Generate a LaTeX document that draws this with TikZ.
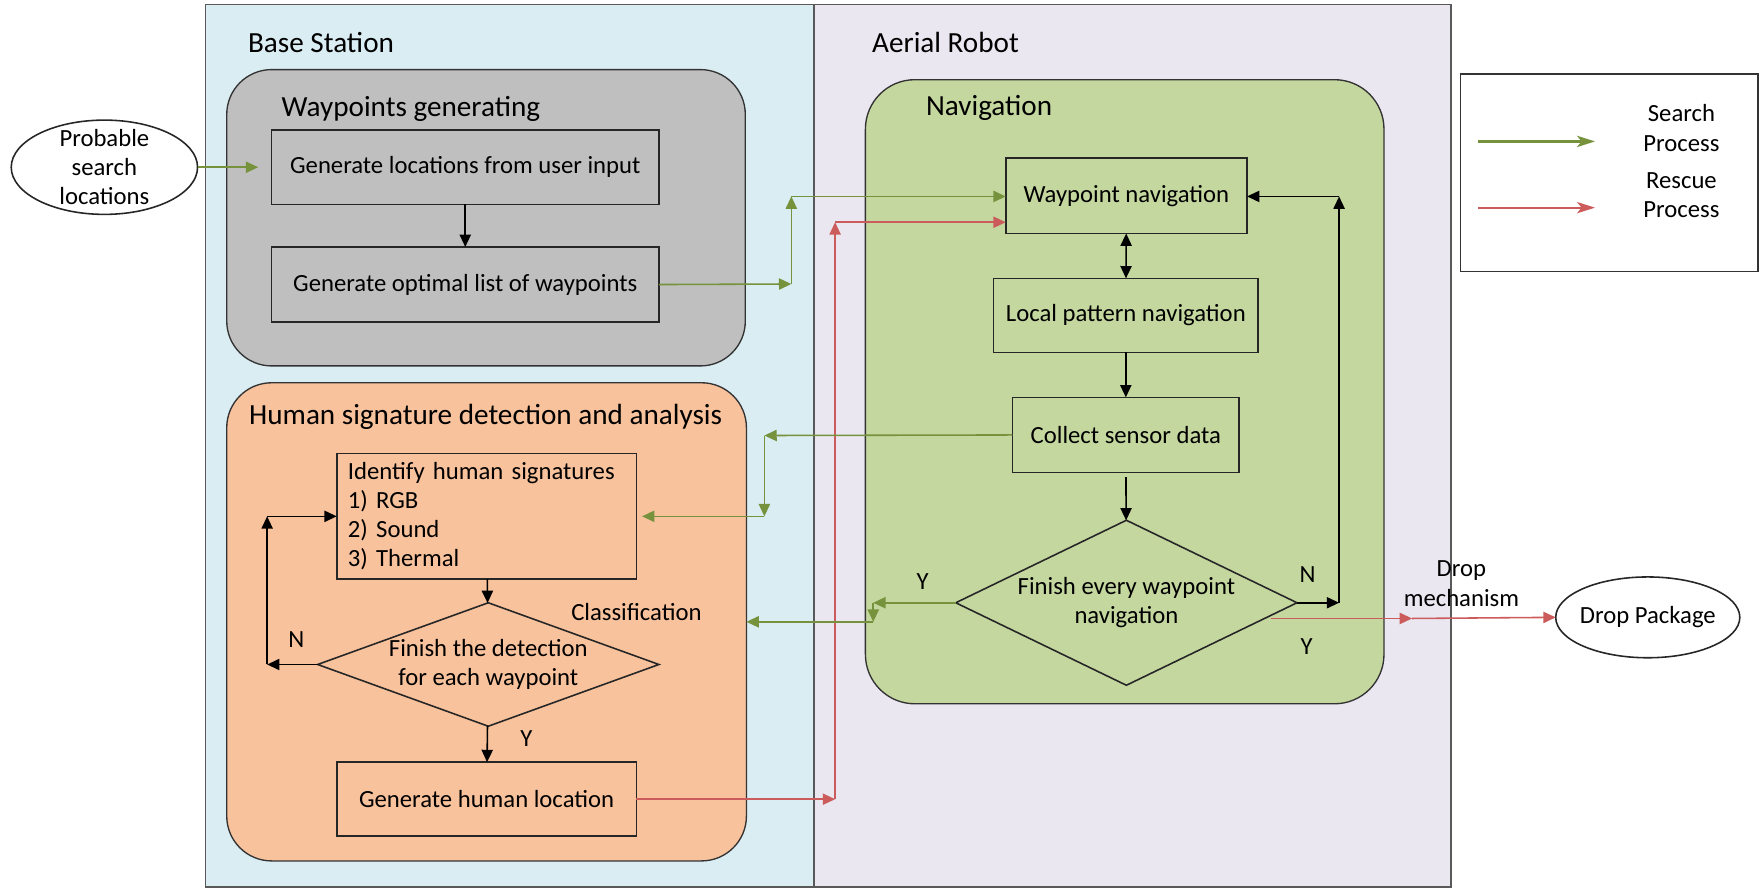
\documentclass[tikz,border=0pt]{standalone}
\usepackage{fontspec}
\setmainfont{Carlito}
\usetikzlibrary{arrows.meta,shapes.geometric}
\definecolor{bsblue}{HTML}{DAEDF3}
\definecolor{arlav}{HTML}{EAE7F0}
\definecolor{wpgray}{HTML}{BFBFBF}
\definecolor{hsorange}{HTML}{F8C29C}
\definecolor{navgreen}{HTML}{C4D79F}
\definecolor{sgreen}{HTML}{76923C}
\definecolor{rred}{HTML}{CC5B5B}
\begin{document}
\begin{tikzpicture}[x=0.5pt,y=-0.5pt,
  every node/.style={inner sep=0pt, outer sep=0pt},
  regionbox/.style={draw=black!65, line width=0.8pt, rectangle},
  groupbox/.style={draw=black!80, line width=0.6pt, rectangle, rounded corners=20pt},
  stepbox/.style={draw=black!85, line width=0.7pt, rectangle, align=center, font=\fontsize{11}{13}\selectfont},
  decbox/.style={draw=black!85, line width=0.7pt, diamond},
  ovalbox/.style={draw=black!85, line width=0.7pt, ellipse, fill=white},
  titletext/.style={anchor=west, font=\fontsize{13}{15}\selectfont},
  lbltext/.style={font=\fontsize{11}{13}\selectfont, align=center},
  myTip/.style={-{Triangle[length=5.5pt,width=5pt]}},
  blkarrow/.style={myTip, draw=black, line width=0.7pt},
  blkdbl/.style={{Triangle[length=5.5pt,width=5pt]}-{Triangle[length=5.5pt,width=5pt]}, draw=black, line width=0.7pt},
  grnarrow/.style={myTip, draw=sgreen, fill=sgreen, line width=0.7pt},
  redarrow/.style={myTip, draw=rred, fill=rred, line width=0.7pt},
  legarrow/.style={-{Stealth[length=8pt,width=5pt,inset=2pt]}, line width=1pt},
]
\useasboundingbox (0,0) rectangle (1568,792);

% regions
\node[regionbox, fill=bsblue, minimum width=271pt, minimum height=393pt] (bs) at (454,397) {};
\node[regionbox, fill=arlav, minimum width=284pt, minimum height=393pt] (ar) at (1009,397) {};
\node[titletext] (bst) at (221,38) {Base Station};
\node[titletext] (art) at (777,38) {Aerial Robot};

% groups
\node[groupbox, fill=wpgray, minimum width=231pt, minimum height=132pt] (wpgen) at (433,194) {};
\node[titletext] (wpgent) at (251,97) {Waypoints generating};
\node[groupbox, fill=hsorange, minimum width=231.5pt, minimum height=213pt] (hsd) at (433.5,554) {};
\node[titletext] (hsdt) at (222,371) {Human signature detection and analysis};
\node[groupbox, fill=navgreen, minimum width=231pt, minimum height=278pt, rounded corners=22pt] (nav) at (1002,349) {};
\node[titletext] (navt) at (825,96) {Navigation};

% base station steps
\node[stepbox, minimum width=172.5pt, minimum height=33pt] (genloc) at (414.5,149) {Generate locations from user input};
\node[stepbox, minimum width=172.5pt, minimum height=33.5pt] (genopt) at (414.5,253.5) {Generate optimal list of waypoints};
\node[stepbox, minimum width=133.5pt, minimum height=56pt] (ident) at (433.5,460) {};
\node[lbltext, align=left, text width=123.5pt, font=\fontsize{11}{13}\selectfont] (identt) at (433.5,460) {Identify human signatures\\1) RGB\\2) Sound\\3) Thermal};
\node[decbox, minimum width=152pt, minimum height=55pt] (dia1) at (435,592) {};
\node[lbltext] (dia1t) at (435,592) {Finish the detection\\for each waypoint};
\node[stepbox, minimum width=133.5pt, minimum height=33pt] (genhum) at (433.5,712) {Generate human location};

% aerial robot steps
\node[stepbox, minimum width=107.5pt, minimum height=33.5pt] (wpnav) at (1003.5,174.5) {Waypoint navigation};
\node[stepbox, minimum width=118pt, minimum height=33pt] (lpnav) at (1003,281) {Local pattern navigation};
\node[stepbox, minimum width=101pt, minimum height=33.5pt] (csd) at (1003,387.5) {Collect sensor data};
\node[decbox, minimum width=152pt, minimum height=73.5pt] (dia2) at (1003.5,537) {};
\node[lbltext] (dia2t) at (1003.5,537) {Finish every waypoint\\navigation};

% outside
\node[ovalbox, minimum width=83pt, minimum height=42pt] (prob) at (93,149) {};
\node[lbltext] (probt) at (93,149) {Probable\\search\\locations};
\node[ovalbox, minimum width=82pt, minimum height=36pt] (drop) at (1468,550) {};
\node[lbltext] (dropt) at (1468,550) {Drop Package};

% legend
\node[draw=black!80, line width=0.7pt, fill=white, minimum width=132.5pt, minimum height=88pt] (legend) at (1433.5,154) {};
\node[lbltext] (legs) at (1498,114) {Search\\Process};
\node[lbltext] (legr) at (1498,174) {Rescue\\Process};
\coordinate (lg1) at (1317,126);
\coordinate (lg2) at (1421,126);
\coordinate (lr1) at (1317,185);
\coordinate (lr2) at (1421,185);
\draw[legarrow, draw=sgreen, fill=black!60!sgreen] (lg1) -- (lg2);
\draw[legarrow, draw=rred, fill=black!50!rred] (lr1) -- (lr2);

% labels
\node[lbltext] (cls) at (567,545) {Classification};
\node[lbltext] (n1t) at (264,570) {N};
\node[lbltext] (y1t) at (469,658) {Y};
\node[lbltext] (y2t) at (822,518) {Y};
\node[lbltext] (n2t) at (1165,512) {N};
\node[lbltext] (y3t) at (1164,576) {Y};
\node[lbltext] (dmt) at (1302,520) {Drop\\mechanism};

% coordinates
\coordinate (pin) at (230,149);
\coordinate (c1) at (705,253);
\coordinate (c2) at (705,175);
\coordinate (r1) at (744,712);
\coordinate (r2) at (744,198);
\coordinate (b1) at (1193,537);
\coordinate (b2) at (1193,175);
\coordinate (g1) at (681,388);
\coordinate (g2) at (681,460);
\coordinate (g3) at (778,537);
\coordinate (g4) at (778,554);
\coordinate (d1) at (1132,551);
\coordinate (d2) at (1258,551);
\coordinate (n1) at (238,592);
\coordinate (n2) at (238,460);

% connectors
\draw[grnarrow] (prob.east) -- (pin);
\draw[blkarrow] (genloc) -- (genopt);
\draw[grnarrow] (genopt.east) -- (c1);
\draw[grnarrow] (c1) -- (c2);
\draw[grnarrow] (c2) -- (c2 -| wpnav.west);
\draw[redarrow] (genhum.east) -- (r1);
\draw[redarrow] (r1) -- (r2);
\draw[redarrow] (r2) -- (r2 -| wpnav.west);
\draw[blkdbl] (wpnav) -- (lpnav);
\draw[blkarrow] (lpnav) -- (csd);
\draw[blkarrow, shorten <=2pt] (csd) -- (dia2);
\draw[blkarrow] (dia2.east) -- (b1);
\draw[blkarrow] (b1) -- (b2);
\draw[blkarrow] (b2) -- (b2 -| wpnav.east);
\draw[grnarrow] (csd.west) -- (g1);
\draw[grnarrow] (g1) -- (g2);
\draw[grnarrow, shorten >=2.5pt] (g2) -- (g2 -| ident.east);
\draw[grnarrow] (dia2.west) -- (g3);
\draw[grnarrow] (g3) -- (g4);
\draw[grnarrow] (g4) -- (hsd.east);
\draw[blkarrow] (dia1.west) -- (n1);
\draw[blkarrow] (n1) -- (n2);
\draw[blkarrow] (n2) -- (ident.west);
\draw[blkarrow] (ident) -- (dia1);
\draw[blkarrow] (dia1) -- (genhum);
\draw[redarrow] (d1) -- (d2);
\draw[redarrow] (d2) -- (drop.west);
\end{tikzpicture}
\end{document}
